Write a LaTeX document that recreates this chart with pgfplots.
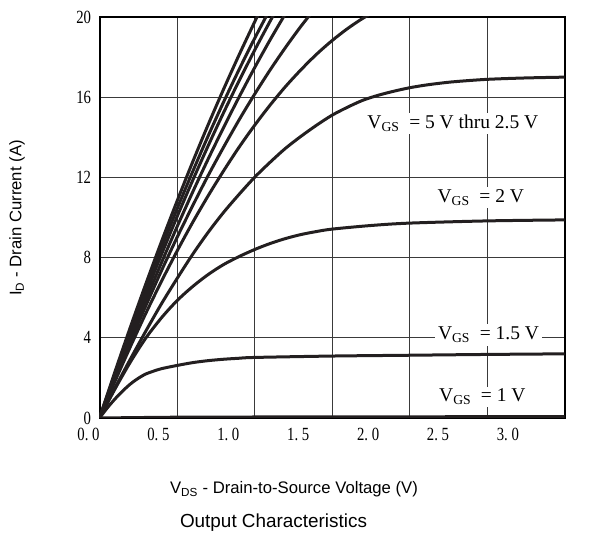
\documentclass[border=0pt]{standalone}
\usepackage{pgfplots}
\pgfplotsset{compat=1.18}
\usepackage{graphicx}
\usepackage{fontspec}
\setmainfont{Liberation Serif}
\newfontfamily\arial{Liberation Sans}
\definecolor{curve}{HTML}{231F20}
\definecolor{gridc}{HTML}{3A3A3A}
\newcommand{\tl}[1]{\scalebox{0.95}[1.2]{#1}}
\begin{document}
\begin{tikzpicture}
\path[use as bounding box] (0,0) rectangle (593bp,536bp);
\begin{axis}[
  at={(99.5bp,118bp)}, anchor=south west,
  width=465bp, height=401bp, scale only axis,
  xmin=0, xmax=3, ymin=0, ymax=20,
  xtick={0,0.5,1,1.5,2,2.5,3}, ytick={0,4,8,12,16,20},
  xticklabels={\tl{0.\ 0},\tl{0.\ 5},\tl{1.\ 0},\tl{1.\ 5},\tl{2.\ 0},\tl{2.\ 5},\tl{3.\ 0}},
  yticklabels={\tl{0},\tl{4},\tl{8},\tl{12},\tl{16},\tl{20}},
  grid=major, major grid style={gridc, line width=1bp},
  major tick length=0pt,
  axis line style={line width=2bp, black},
  tick label style={font=\fontsize{15.5bp}{16bp}\selectfont},
  xticklabel style={xshift={-11bp-7.6bp*\ticknum}, yshift=-7bp},
  yticklabel style={xshift=-5bp},
  clip=true,
  cur/.style={curve, line width=3bp, smooth, mark=none},
]
% 5 V thru 3 V (steepest group)
\addplot[cur] coordinates {(0,0)(0.1,2.31)(0.2,4.55)(0.3,6.71)(0.4,8.80)(0.5,10.81)(0.6,12.75)(0.7,14.61)(0.8,16.39)(0.9,18.10)(1.0,19.74)(1.05,20.53)};
\addplot[cur] coordinates {(0,0)(0.1,2.24)(0.2,4.40)(0.3,6.48)(0.4,8.49)(0.5,10.42)(0.6,12.27)(0.7,14.05)(0.8,15.75)(0.9,17.37)(1.0,18.92)(1.1,20.39)};
\addplot[cur] coordinates {(0,0)(0.1,2.14)(0.2,4.22)(0.3,6.22)(0.4,8.16)(0.5,10.03)(0.6,11.83)(0.7,13.56)(0.8,15.22)(0.9,16.81)(1.0,18.33)(1.1,19.78)(1.15,20.48)};
\addplot[cur] coordinates {(0,0)(0.1,2.03)(0.2,4.01)(0.3,5.91)(0.4,7.75)(0.5,9.53)(0.6,11.25)(0.7,12.90)(0.8,14.48)(0.9,16.00)(1.0,17.46)(1.1,18.85)(1.2,20.17)(1.25,20.8)};
\addplot[cur] coordinates {(0,0)(0.1,1.95)(0.2,3.82)(0.3,5.62)(0.4,7.35)(0.5,9.00)(0.6,10.57)(0.7,12.08)(0.8,13.50)(0.9,14.86)(1.0,16.14)(1.1,17.35)(1.2,18.48)(1.3,19.54)(1.4,20.52)};
\addplot[cur] coordinates {(0,0)(0.1,1.83)(0.2,3.57)(0.3,5.24)(0.4,6.82)(0.5,8.32)(0.6,9.74)(0.7,11.07)(0.8,12.32)(0.9,13.50)(1.0,14.59)(1.1,15.60)(1.2,16.53)(1.3,17.37)(1.4,18.14)(1.5,18.82)(1.6,19.42)(1.7,19.94)(1.8,20.37)};
% 2.5 V
\addplot[cur] coordinates {(0,0)(0.1,1.5)(0.2,2.95)(0.3,4.35)(0.4,5.7)(0.5,6.95)(0.6,8.15)(0.7,9.25)(0.8,10.25)(0.9,11.15)(1.0,12.0)(1.1,12.75)(1.2,13.45)(1.3,14.05)(1.4,14.6)(1.5,15.1)(1.6,15.5)(1.7,15.85)(1.8,16.1)(1.9,16.3)(2.0,16.47)(2.1,16.6)(2.2,16.7)(2.3,16.78)(2.5,16.89)(2.75,16.96)(3.0,17.0)};
% 2 V
\addplot[cur] coordinates {(0,0)(0.1,1.45)(0.2,2.8)(0.3,4.0)(0.4,5.0)(0.5,5.85)(0.6,6.55)(0.7,7.15)(0.8,7.65)(0.9,8.05)(1.0,8.4)(1.1,8.7)(1.2,8.95)(1.3,9.15)(1.4,9.3)(1.5,9.42)(1.75,9.6)(2.0,9.72)(2.5,9.83)(3.0,9.88)};
% 1.5 V
\addplot[cur] coordinates {(0,0)(0.05,0.5)(0.1,0.95)(0.15,1.35)(0.2,1.7)(0.25,1.98)(0.3,2.2)(0.35,2.34)(0.4,2.46)(0.5,2.62)(0.6,2.76)(0.7,2.86)(0.8,2.93)(0.9,2.98)(1.0,3.02)(1.5,3.09)(2.0,3.13)(2.5,3.17)(3.0,3.2)};
% 1 V
\addplot[cur] coordinates {(0,0)(0.5,0.04)(1.0,0.05)(2.0,0.06)(3.0,0.07)};

\node[fill=white, inner sep=2bp, font=\fontsize{19.5bp}{20bp}\selectfont] at (axis cs:2.28,14.7) {V\textsubscript{GS}\ \ = 5 V thru 2.5 V};
\node[fill=white, inner sep=2bp, font=\fontsize{19.5bp}{20bp}\selectfont] at (axis cs:2.46,11.0) {V\textsubscript{GS}\ \ = 2 V};
\node[fill=white, inner sep=3bp, font=\fontsize{19.5bp}{20bp}\selectfont] at (axis cs:2.51,4.14) {V\textsubscript{GS}\ \ = 1.5 V};
\node[fill=white, inner sep=2bp, font=\fontsize{19.5bp}{20bp}\selectfont] at (axis cs:2.47,1.05) {V\textsubscript{GS}\ \ = 1 V};
\end{axis}
\node[font=\arial\fontsize{16.7bp}{18bp}\selectfont, anchor=base] at (294bp,42bp) {V\textsubscript{DS} - Drain-to-Source Voltage (V)};
\node[font=\arial\fontsize{18.9bp}{20bp}\selectfont, anchor=base] at (273.5bp,9bp) {Output Characteristics};
\node[font=\arial\fontsize{16.7bp}{18bp}\selectfont, rotate=90] at (17bp,318bp) {I\textsubscript{D} - Drain Current (A)};
\end{tikzpicture}
\end{document}
